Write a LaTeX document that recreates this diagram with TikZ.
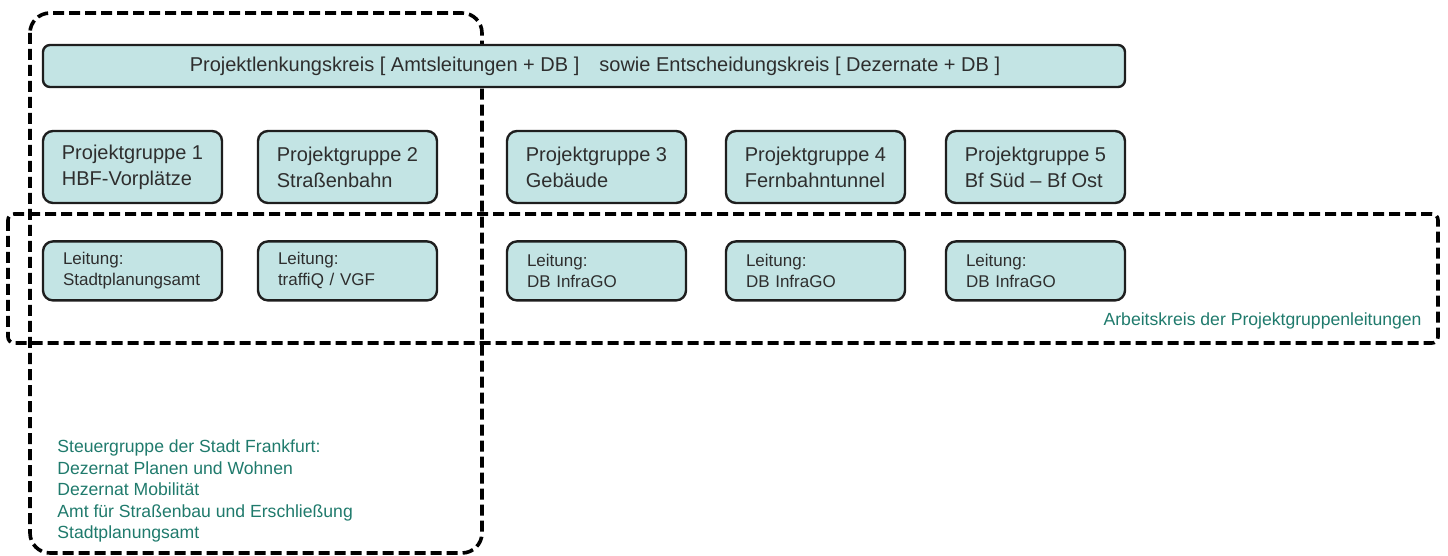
\documentclass[tikz,border=0pt]{standalone}
\usepackage{fontspec}
\setmainfont{Liberation Sans}
\usetikzlibrary{positioning}
\definecolor{BoxTeal}{HTML}{C3E4E4}
\definecolor{BoxLine}{HTML}{1E1E1E}
\definecolor{TextGray}{HTML}{2E2E2E}
\definecolor{CircleGreen}{HTML}{1F7A6C}
\tikzset{
  groupbox/.style={draw=BoxLine,fill=BoxTeal,line width=1.2pt,rounded corners=5pt,
    text=TextGray,minimum width=89.5pt},
  leadbox/.style={groupbox,align=left,text width=69.5pt,inner xsep=10pt,
    minimum height=29.5pt,font=\fontsize{8.5}{10.5}\selectfont},
  circleframe/.style={draw=black,line width=1.8pt,dash pattern=on 5.5pt off 2.5pt},
  circlelabel/.style={text=CircleGreen,inner sep=0pt,font=\fontsize{8.8}{10.75}\selectfont}
}

\begin{document}
\begin{tikzpicture}[x=0.5pt,y=-0.5pt]
  \useasboundingbox (0,0) rectangle (1448,556);

  % Dashed circles
  \draw[circleframe,rounded corners=10pt] (30,13) rectangle (482,553);
  \draw[circleframe,rounded corners=3pt] (8,214) rectangle (1438,343);

  % Steering box
  \node[groupbox,rounded corners=3.5pt,minimum width=541pt,minimum height=21pt,
    font=\fontsize{10}{12}\selectfont] (lenkung) at (584,66)
    {\hspace*{11pt}Projektlenkungskreis [ Amtsleitungen + DB ]\quad sowie Entscheidungskreis [ Dezernate + DB ]};

  % Project groups and their leads
  \foreach \i/\cx/\topic/\lead in {1/132.5/HBF-Vorplätze/Stadtplanungsamt,
      2/347.5/Straßenbahn/{traffiQ / VGF},
      3/596.5/Gebäude/DB InfraGO,
      4/815.5/Fernbahntunnel/DB InfraGO,
      5/1035.5/Bf Süd – Bf Ost/DB InfraGO} {
    \node[groupbox,align=left,minimum height=36pt,font=\fontsize{10}{13}\selectfont]
      (pg\i) at (\cx,167) {Projektgruppe \i\\\topic};
    \node[leadbox,below=18pt of pg\i] (lt\i) {Leitung:\\\lead};
  }

  % Labels of the circles
  \node[circlelabel,anchor=west,align=left] (steuertext) at (57,491)
    {Steuergruppe der Stadt Frankfurt:\\Dezernat Planen und Wohnen\\Dezernat Mobilität\\
     Amt für Straßenbau und Erschließung\\Stadtplanungsamt};
  \node[circlelabel,anchor=east] (arbeitstext) at (1422,321)
    {Arbeitskreis der Projektgruppenleitungen};
\end{tikzpicture}
\end{document}
